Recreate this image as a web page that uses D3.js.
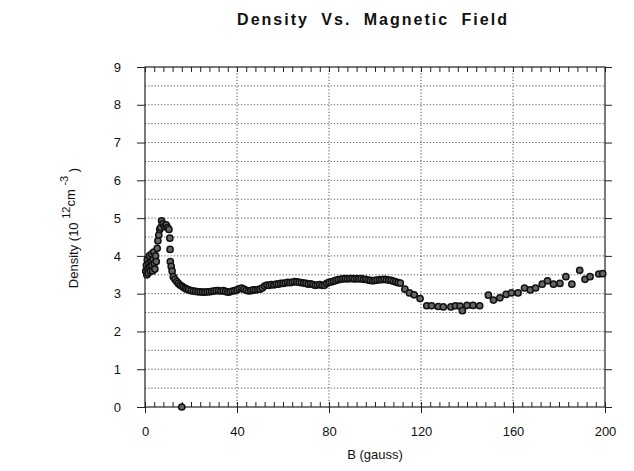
<!DOCTYPE html>
<html>
<head>
<meta charset="utf-8">
<script src="https://cdn.jsdelivr.net/npm/d3@7"></script>
<style>
  body { margin: 0; background: #fff; }
  text { font-family: "Liberation Sans", Arial, sans-serif; fill: #111; }
  .grid line { stroke: #555; stroke-width: 1; stroke-dasharray: 1.2 2; }
  .axis path { display: none; }
  .axis line { stroke: #222; }
  .axis text { font-size: 13px; }
</style>
</head>
<body>
<div id="graph"></div>
<script>
// magnetic field (gauss) and density (10^12 cm^-3)
var bField = [
  0.3, 0.6, 0.8, 1.0, 1.2, 1.4, 1.6, 1.9, 2.1, 2.3, 2.6, 2.8, 3.0, 3.3, 3.5, 3.8, 4.0, 4.3, 4.6, 4.9,
  5.3, 5.6, 6.0, 6.4, 6.8, 7.2, 7.8, 8.5, 9.2, 9.8, 10.4, 10.8, 10.9, 11.0, 11.4, 11.8, 12.3, 13.0,
  13.8, 14.5, 15.2, 16.0, 16.7, 17.5, 18.2, 19, 20, 21, 22, 23, 24, 25, 26, 27, 28, 29, 30, 31, 32,
  33, 34, 35, 36, 37, 38, 39, 40, 41, 42, 43, 44, 45, 46, 47, 48, 49, 50, 51, 52, 53, 54, 55, 56,
  57, 58, 59, 60, 61, 62, 63, 64, 65, 66, 67, 68, 69, 70, 71, 72, 73, 74, 75, 76, 77, 78, 79, 80,
  81, 82, 83, 84, 85, 86, 87, 88, 89, 90, 91, 92, 93, 94, 95, 96, 97, 98, 99, 100, 101, 102, 103,
  104, 105, 106, 107, 108, 109, 110, 111,
  113, 115, 117, 119.6, 122.5, 124.6, 127.5, 129.7, 133, 135, 137, 138, 140, 142.6, 145.5,
  149.3, 151.5, 154.3, 157, 159.3, 162.2, 165, 167.5, 169.8, 172.7, 175, 177.6, 180.4, 183,
  185.6, 189, 191.3, 193.5, 197.3, 199,
  16
];
var density = [
  3.6, 3.75, 3.5, 3.9, 3.65, 3.55, 3.8, 4.0, 3.7, 3.6, 3.85, 4.05, 3.75, 3.6, 3.9, 4.1, 3.8, 3.65, 4.0, 3.85,
  4.2, 4.4, 4.55, 4.7, 4.75, 4.93, 4.85, 4.78, 4.82, 4.75, 4.7, 4.47, 4.17, 3.85, 3.72, 3.6, 3.45, 3.38,
  3.32, 3.27, 3.23, 3.2, 3.17, 3.14, 3.12, 3.1, 3.08, 3.07, 3.06, 3.05, 3.05, 3.04, 3.04, 3.05, 3.05, 3.06, 3.07, 3.08, 3.08,
  3.07, 3.08, 3.06, 3.04, 3.05, 3.07, 3.08, 3.1, 3.13, 3.15, 3.12, 3.09, 3.07, 3.08, 3.1, 3.1, 3.11, 3.12, 3.15, 3.2, 3.23, 3.22, 3.24, 3.23,
  3.25, 3.25, 3.27, 3.27, 3.28, 3.3, 3.29, 3.3, 3.32, 3.31, 3.3, 3.29, 3.28, 3.27, 3.25, 3.26, 3.24, 3.22, 3.23, 3.24, 3.22, 3.22, 3.27, 3.3,
  3.31, 3.33, 3.35, 3.37, 3.38, 3.39, 3.4, 3.39, 3.4, 3.4, 3.39, 3.4, 3.39, 3.4, 3.38, 3.38, 3.36, 3.35, 3.34, 3.35, 3.36, 3.37, 3.37,
  3.38, 3.37, 3.36, 3.35, 3.33, 3.31, 3.29, 3.28,
  3.12, 3.02, 2.97, 2.87, 2.68, 2.68, 2.66, 2.65, 2.65, 2.68, 2.67, 2.55, 2.69, 2.69, 2.68,
  2.96, 2.83, 2.89, 2.98, 3.02, 3.02, 3.15, 3.1, 3.15, 3.25, 3.34, 3.25, 3.27, 3.45,
  3.25, 3.62, 3.38, 3.45, 3.52, 3.53,
  0
];

var xTicks = [0, 40, 80, 120, 160, 200];
var yTicks = [0, 1, 2, 3, 4, 5, 6, 7, 8, 9];
var xGrid = [40, 80, 120, 160];
var yGrid = [0.5, 1, 1.5, 2, 2.5, 3, 3.5, 4, 4.5, 5, 5.5, 6, 6.5, 7, 7.5, 8, 8.5];
var xMinor = d3.range(0, 201, 4);

var w = 634, h = 471;
var padL = 145, padR = 605, padT = 67, padB = 407;

var svg = d3.select('#graph').append('svg').attr('width', w).attr('height', h);

var x = d3.scaleLinear().domain([0, 200]).range([padL, padR]);
var y = d3.scaleLinear().domain([0, 9]).range([padB, padT]);

// dotted grid
svg.append('g').attr('class', 'grid')
  .selectAll('line').data(yGrid).enter().append('line')
  .attr('x1', padL).attr('x2', padR)
  .attr('y1', function(d) { return y(d); }).attr('y2', function(d) { return y(d); });

svg.append('g').attr('class', 'grid')
  .selectAll('line').data(xGrid).enter().append('line')
  .attr('y1', padT).attr('y2', padB)
  .attr('x1', function(d) { return x(d); }).attr('x2', function(d) { return x(d); });

// frame
svg.append('rect')
  .attr('x', padL).attr('y', padT)
  .attr('width', padR - padL).attr('height', padB - padT)
  .attr('fill', 'none').attr('stroke', '#222').attr('stroke-width', 1.2);

// axes
svg.append('g').attr('class', 'axis')
  .attr('transform', 'translate(0,' + padB + ')')
  .call(d3.axisBottom(x).tickValues(xTicks).tickSize(6).tickPadding(14));

svg.append('g').attr('class', 'axis')
  .attr('transform', 'translate(0,' + padB + ')')
  .call(d3.axisBottom(x).tickValues(xMinor).tickSize(-5).tickFormat(''));

svg.append('g').attr('class', 'axis')
  .attr('transform', 'translate(0,' + padT + ')')
  .call(d3.axisTop(x).tickValues(xMinor).tickSize(-5).tickFormat(''));

svg.append('g').attr('class', 'axis')
  .attr('transform', 'translate(' + padL + ',0)')
  .call(d3.axisLeft(y).tickValues(yTicks).tickSize(8).tickPadding(16));

svg.append('g').attr('class', 'axis')
  .attr('transform', 'translate(' + padR + ',0)')
  .call(d3.axisRight(y).tickValues(yTicks).tickSize(7).tickFormat(''));

// points
svg.append('g')
  .selectAll('circle').data(bField).enter().append('circle')
  .attr('cx', function(d) { return x(d); })
  .attr('cy', function(d, i) { return y(density[i]); })
  .attr('r', 3.1)
  .attr('fill', '#666')
  .attr('stroke', '#111')
  .attr('stroke-width', 1.5);

// titles
svg.append('text')
  .attr('x', 373).attr('y', 25)
  .attr('text-anchor', 'middle')
  .attr('font-size', '16px').attr('font-weight', 'bold')
  .attr('letter-spacing', '2px').attr('word-spacing', '6px')
  .text('Density Vs. Magnetic Field');

svg.append('text')
  .attr('x', 375).attr('y', 459)
  .attr('text-anchor', 'middle')
  .attr('font-size', '13px')
  .text('B (gauss)');

var ylab = svg.append('text')
  .attr('transform', 'translate(78,228) rotate(-90)')
  .attr('text-anchor', 'middle')
  .attr('font-size', '13px');
ylab.append('tspan').text('Density (10 ');
ylab.append('tspan').attr('dy', -8).attr('font-size', '11px').text('12');
ylab.append('tspan').attr('dy', 5).text('cm ');
ylab.append('tspan').attr('dy', -7).attr('font-size', '11px').text('-3');
ylab.append('tspan').attr('dy', 10).text(' )');
</script>
</body>
</html>
